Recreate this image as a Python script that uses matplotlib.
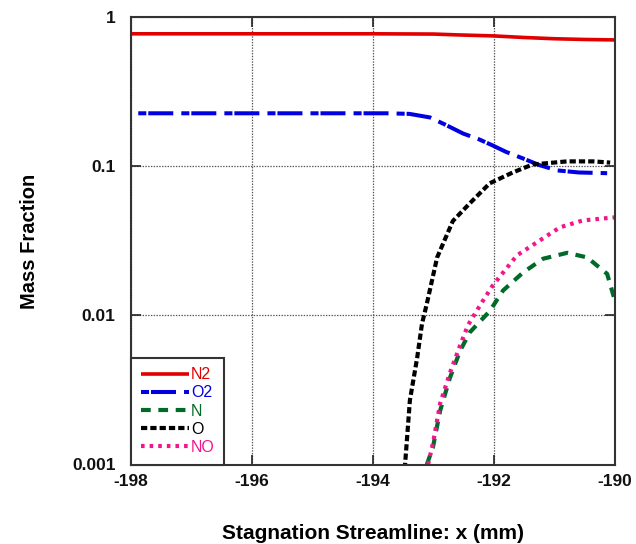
import matplotlib
matplotlib.use("Agg")
import matplotlib.pyplot as plt
import numpy as np

plt.rcParams['font.family'] = ['Liberation Sans', 'DejaVu Sans']
plt.rcParams['lines.scale_dashes'] = False

# N2
x_n2 = [-198.0, -196.0, -194.0, -193.0, -192.6, -192.0, -191.5, -191.0, -190.5, -190.0]
y_n2 = [0.775, 0.775, 0.775, 0.772, 0.762, 0.75, 0.732, 0.718, 0.71, 0.705]
# O2
x_o2 = [-197.88, -196.0, -194.5, -193.77, -193.4, -193.06, -192.8, -192.51, -192.25, -192.02,
        -191.8, -191.52, -191.25, -190.96, -190.6, -190.13]
y_o2 = [0.227, 0.227, 0.227, 0.227, 0.225, 0.213, 0.19, 0.166, 0.152, 0.138,
        0.125, 0.113, 0.102, 0.094, 0.091, 0.090]
# N
x_n = [-193.11, -193.01, -192.89, -192.73, -192.56, -192.40, -192.07, -191.85, -191.52,
       -191.19, -190.79, -190.46, -190.13, -190.0]
y_n = [0.001, 0.0013, 0.0023, 0.0038, 0.0058, 0.0077, 0.0107, 0.0147, 0.0194,
       0.024, 0.0263, 0.0245, 0.019, 0.0125]
# O
x_o = [-193.5, -193.47, -193.39, -193.27, -193.19, -193.11, -192.94, -192.68, -192.40,
       -192.07, -191.69, -191.36, -190.79, -190.36, -190.08]
y_o = [0.0007, 0.001, 0.0027, 0.0052, 0.0088, 0.012, 0.0245, 0.043, 0.0565,
       0.077, 0.091, 0.103, 0.108, 0.108, 0.106]
# NO
x_no = [-193.09, -193.01, -192.89, -192.73, -192.56, -192.43, -192.23, -192.02, -191.62,
        -191.24, -190.91, -190.53, -190.0]
y_no = [0.001, 0.00138, 0.00257, 0.0041, 0.0063, 0.0086, 0.0117, 0.0159, 0.0253,
        0.0319, 0.039, 0.0434, 0.0455]

x_ticks = [-198, -196, -194, -192, -190]
y_ticks = [0.001, 0.01, 0.1, 1]
y_ticklabels = ['0.001', '0.01', '0.1', '1']

fig = plt.figure(figsize=(6.36, 5.44), dpi=100)
ax = fig.add_axes([131/636, 1-464.5/544, (615-131)/636, (464.5-17.3)/544])

ax.plot(x_n2, y_n2, color='#e00000', lw=2.6, label='N2', solid_capstyle='butt')
ax.plot(x_o2, y_o2, color='#0000e0', lw=2.9, dashes=(5.8, 1.4, 18, 5.8), label='O2')
ax.plot(x_n, y_n, color='#006a28', lw=3.0, dashes=(7, 5.5), label='N')
ax.plot(x_o, y_o, color='black', lw=3.0, dashes=(4.5, 2.2), label='O')
ax.plot(x_no, y_no, color='#f0168c', lw=3.0, dashes=(2.6, 3.6), label='NO')

ax.set_yscale('log')
ax.set_xlim(-198, -190)
ax.set_ylim(0.001, 1)
ax.set_xticks(x_ticks)
ax.set_xticklabels([str(t) for t in x_ticks])
ax.set_yticks(y_ticks)
ax.set_yticklabels(y_ticklabels)
ax.yaxis.set_minor_locator(matplotlib.ticker.NullLocator())
ax.tick_params(direction='in', length=7, width=1.2, top=True, right=True,
               labelsize=12.5, colors='#222222')
ax.tick_params(axis='y', pad=11)
ax.tick_params(axis='x', pad=7)
for lab in ax.get_xticklabels() + ax.get_yticklabels():
    lab.set_fontweight('bold')
    lab.set_color('#111111')
ax.grid(True, which='major', linestyle=(0, (1, 1)), color='#555555', lw=0.9)
for s in ax.spines.values():
    s.set_linewidth(1.5)
    s.set_color('#333333')

ax.set_xlabel('Stagnation Streamline: x (mm)', fontsize=15, fontweight='bold', labelpad=25)
ax.set_ylabel('Mass Fraction', fontsize=14.5, fontweight='bold', labelpad=24)

leg = ax.legend(loc='lower left', bbox_to_anchor=(0, 0), borderaxespad=0,
                fontsize=11.5, handlelength=3.0, handletextpad=0.15,
                labelspacing=0.2, fancybox=False, framealpha=1,
                edgecolor='#333333', borderpad=0.6)
leg.get_frame().set_linewidth(1.5)
for txt, line in zip(leg.get_texts(), leg.get_lines()):
    txt.set_color(line.get_color())

fig.savefig('out.png', dpi=100)
